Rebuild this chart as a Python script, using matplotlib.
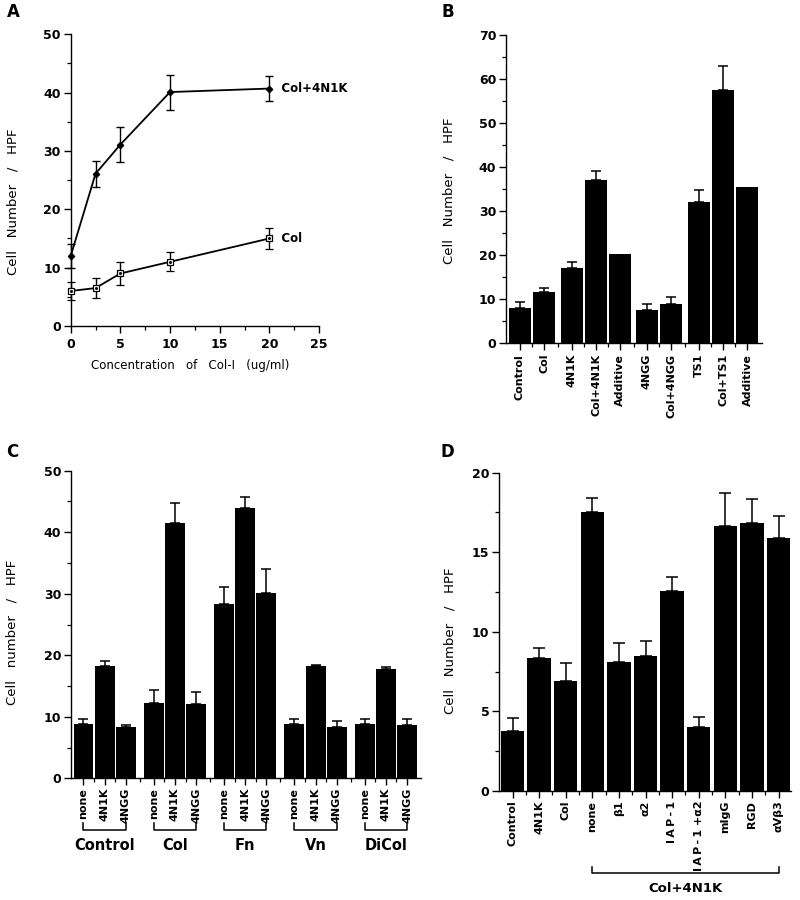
import numpy as np
import matplotlib
matplotlib.use("Agg")
import matplotlib.pyplot as plt
from matplotlib.ticker import MultipleLocator, FixedLocator

plt.rcParams['font.family'] = ['DejaVu Sans']

# ---------------- data ----------------
# Panel A
a_conc = [0, 2.5, 5, 10, 20]
a_col4n1k = [12.0, 26.1, 31.1, 40.1, 40.7]
a_col4n1k_err = [2.0, 2.2, 3.0, 3.0, 2.2]
a_col = [6.0, 6.5, 9.0, 11.0, 15.0]
a_col_err = [1.5, 1.7, 2.0, 1.6, 1.8]

# Panel B
b_labels = ["Control", "Col", "4N1K", "Col+4N1K", "Additive",
            "4NGG", "Col+4NGG", "TS1", "Col+TS1", "Additive"]
b_groups = [0, 0, 1, 1, 1, 2, 2, 3, 3, 3]
b_values = [7.8, 11.6, 16.9, 37.1, 20.2, 7.5, 8.8, 32.1, 57.5, 35.4]
b_err = [1.5, 0.8, 1.5, 2.0, 0.0, 1.4, 1.5, 2.7, 5.4, 0.0]

# Panel C
c_groups = ["Control", "Col", "Fn", "Vn", "DiCol"]
c_treat = ["none", "4N1K", "4NGG"]
c_values = [[8.9, 18.3, 8.4],
            [12.3, 41.5, 12.1],
            [28.4, 43.9, 30.2],
            [8.9, 18.3, 8.4],
            [8.9, 17.7, 8.7]]
c_err = [[0.7, 0.7, 0.3],
         [2.1, 3.2, 1.9],
         [2.7, 1.8, 3.9],
         [0.7, 0.05, 0.9],
         [0.7, 0.4, 1.0]]

# Panel D
d_labels = ["Control", "4N1K", "Col", "none", "β1", "α2",
            "I\u2009A\u2009P\u2009-\u20091",
            "I\u2009A\u2009P\u2009-\u20091 +α2", "mIgG", "RGD", "αVβ3"]
d_values = [3.77, 8.38, 6.91, 17.5, 8.08, 8.48, 12.57, 4.04, 16.67, 16.82, 15.92]
d_err = [0.83, 0.62, 1.11, 0.9, 1.2, 0.94, 0.85, 0.59, 2.05, 1.53, 1.38]
d_bracket_label = "Col+4N1K"

# ---------------- figure ----------------
W, H = 800, 900
fig = plt.figure(figsize=(W / 100, H / 100), dpi=100)


def px_axes(l, t, r, b):
    return fig.add_axes([l / W, 1 - b / H, (r - l) / W, (b - t) / H])


def style(ax):
    for s in ("top", "right"):
        ax.spines[s].set_visible(False)
    for s in ("left", "bottom"):
        ax.spines[s].set_linewidth(1.0)
    ax.tick_params(axis="both", which="major", direction="out", length=5,
                   width=1.0, labelsize=9, pad=2)
    ax.tick_params(axis="both", which="minor", direction="out", length=3,
                   width=0.9)


LABFONT = dict(fontsize=8, fontweight="bold")
YLAB = "Cell   Number   /   HPF"
YLAB_C = "Cell   number   /   HPF"

# ---------------- Panel A ----------------
axA = px_axes(70.7, 34.3, 319, 326)
style(axA)
axA.errorbar(a_conc, a_col4n1k, yerr=a_col4n1k_err, color="black", lw=1.3,
             marker="D", ms=3.2, mfc="black", mec="black", capsize=2.6,
             elinewidth=1.0, capthick=1.0, clip_on=False, zorder=3)
axA.errorbar(a_conc, a_col, yerr=a_col_err, color="black", lw=1.3,
             marker="s", ms=4.5, mfc="white", mec="black", mew=0.9,
             capsize=2.6, elinewidth=1.0, capthick=1.0, clip_on=False, zorder=3)
axA.plot(a_conc, a_col, ls="none", marker="s", ms=1.0, color="black", zorder=4,
         clip_on=False)
axA.set_xlim(0, 25)
axA.set_ylim(0, 50)
axA.xaxis.set_major_locator(MultipleLocator(5))
axA.xaxis.set_minor_locator(MultipleLocator(2.5))
axA.yaxis.set_major_locator(MultipleLocator(10))
axA.yaxis.set_minor_locator(MultipleLocator(5))
for lab in axA.get_xticklabels() + axA.get_yticklabels():
    lab.set_fontweight("bold")
axA.tick_params(axis="x", pad=4)
axA.text(a_conc[-1], a_col4n1k[-1], "   Col+4N1K", va="center", ha="left",
         fontsize=8.5, fontweight="bold")
axA.text(a_conc[-1], a_col[-1], "   Col", va="center", ha="left",
         fontsize=8.5, fontweight="bold")
fig.text(190 / W, 1 - 365 / H, "Concentration   of   Col-I   (ug/ml)",
         ha="center", va="center", fontsize=8.5)
fig.text(13 / W, 1 - 202 / H, YLAB, rotation=90, ha="center", va="center",
         fontsize=9.5)
fig.text(13 / W, 1 - 12 / H, "A", fontsize=12, fontweight="bold",
         ha="center", va="center")


# ---------------- bar helper ----------------
def bars(ax, xpos, vals, errs, width, cap):
    ax.bar(xpos, vals, width=width, color="black", edgecolor="none", zorder=2)
    xs = [x for x, e in zip(xpos, errs) if e > 0]
    vs = [v for v, e in zip(vals, errs) if e > 0]
    es = [e for e in errs if e > 0]
    ax.errorbar(xs, vs, yerr=[np.zeros(len(es)), es], fmt="none",
                ecolor="black", elinewidth=1.1, capsize=cap, capthick=1.1,
                zorder=3)


def minor_between(xpos):
    xp = list(xpos)
    return [(a + b) / 2 for a, b in zip(xp[:-1], xp[1:])]


# ---------------- Panel B ----------------
axB = px_axes(506, 35, 762, 342.7)
style(axB)
offs = [0.0, 0.15, 0.25, 0.4]
b_x = [i + offs[g] for i, g in enumerate(b_groups)]
bars(axB, b_x, b_values, b_err, 0.91, 3.7)
axB.set_xlim(-0.57, 10.0)
axB.set_ylim(0, 70)
axB.yaxis.set_major_locator(MultipleLocator(10))
axB.yaxis.set_minor_locator(MultipleLocator(5))
axB.set_xticks(b_x)
axB.set_xticklabels(b_labels, rotation=90, **LABFONT)
axB.xaxis.set_minor_locator(FixedLocator(minor_between(b_x)))
axB.tick_params(axis="x", pad=3)
for lab in axB.get_yticklabels():
    lab.set_fontweight("bold")
fig.text(449 / W, 1 - 191 / H, YLAB, rotation=90, ha="center", va="center",
         fontsize=9.5)
fig.text(448 / W, 1 - 12 / H, "B", fontsize=12, fontweight="bold",
         ha="center", va="center")

# ---------------- Panel C ----------------
C_L, C_T, C_R, C_B = 71, 470.7, 421, 778.3
axC = px_axes(C_L, C_T, C_R, C_B)
style(axC)
gstep = 3.32
c_x, c_v, c_e, c_lab = [], [], [], []
for g, grp in enumerate(c_groups):
    for i, t in enumerate(c_treat):
        c_x.append(g * gstep + i)
        c_v.append(c_values[g][i])
        c_e.append(c_err[g][i])
        c_lab.append(t)
bars(axC, c_x, c_v, c_e, 0.94, 3.7)
axC.set_xlim(-0.59, 15.94)
axC.set_ylim(0, 50)
axC.yaxis.set_major_locator(MultipleLocator(10))
axC.yaxis.set_minor_locator(MultipleLocator(5))
axC.set_xticks(c_x)
axC.set_xticklabels(c_lab, rotation=90, **LABFONT)
axC.xaxis.set_minor_locator(FixedLocator(minor_between(c_x)))
for lab in axC.get_yticklabels():
    lab.set_fontweight("bold")


def yfrac(ypx, top, bot):
    return (bot - ypx) / (bot - top)


trC = axC.get_xaxis_transform()
yb = yfrac(830, C_T, C_B)
yt = yfrac(823, C_T, C_B)
yg = yfrac(846, C_T, C_B)
for g, grp in enumerate(c_groups):
    x0, x1 = g * gstep, g * gstep + 2
    axC.plot([x0, x0, x1, x1], [yt, yb, yb, yt], color="black", lw=1.1,
             transform=trC, clip_on=False)
    axC.text((x0 + x1) / 2, yg, grp, transform=trC, ha="center", va="center",
             fontsize=10.5, fontweight="bold", clip_on=False)
fig.text(12 / W, 1 - 632 / H, YLAB_C, rotation=90, ha="center", va="center",
         fontsize=9.5)
fig.text(12 / W, 1 - 452 / H, "C", fontsize=12, fontweight="bold",
         ha="center", va="center")

# ---------------- Panel D ----------------
D_L, D_T, D_R, D_B = 499, 472.7, 791, 791
axD = px_axes(D_L, D_T, D_R, D_B)
style(axD)
d_x = list(range(len(d_values)))
bars(axD, d_x, d_values, d_err, 0.88, 4.2)
axD.set_xlim(-0.51, 10.47)
axD.set_ylim(0, 20)
axD.yaxis.set_major_locator(MultipleLocator(5))
axD.yaxis.set_minor_locator(MultipleLocator(2.5))
axD.set_xticks(d_x)
axD.set_xticklabels(d_labels, rotation=90, **LABFONT)
axD.xaxis.set_minor_locator(FixedLocator(minor_between(d_x)))
for lab in axD.get_yticklabels():
    lab.set_fontweight("bold")
trD = axD.get_xaxis_transform()
yb = yfrac(873, D_T, D_B)
yt = yfrac(867, D_T, D_B)
yg = yfrac(888, D_T, D_B)
x0, x1 = d_x[3], d_x[-1]
axD.plot([x0, x0, x1, x1], [yt, yb, yb, yt], color="black", lw=1.1,
         transform=trD, clip_on=False)
axD.text((x0 + x1) / 2, yg, d_bracket_label, transform=trD, ha="center",
         va="center", fontsize=9.5, fontweight="bold", clip_on=False)
fig.text(450 / W, 1 - 641 / H, YLAB, rotation=90, ha="center", va="center",
         fontsize=9.5)
fig.text(447 / W, 1 - 452 / H, "D", fontsize=12, fontweight="bold",
         ha="center", va="center")

fig.savefig("out.png", dpi=100)
